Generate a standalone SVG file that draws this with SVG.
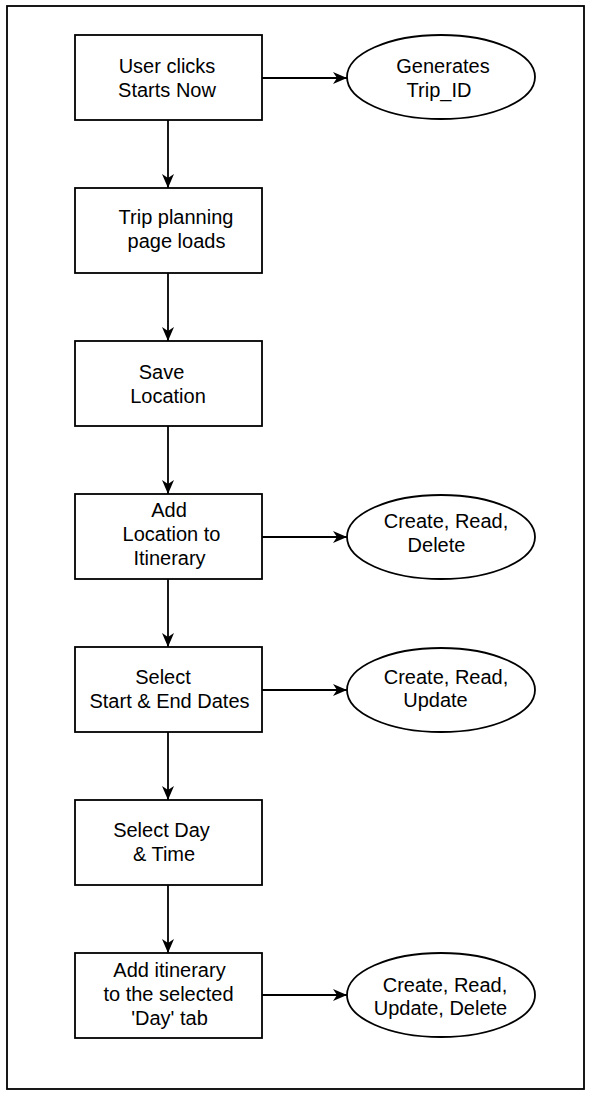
<svg xmlns="http://www.w3.org/2000/svg" width="596" height="1096" viewBox="0 0 596 1096">
<style>
.box{fill:#fff;stroke:#000;stroke-width:1.8}
.ell{fill:#fff;stroke:#000;stroke-width:1.8}
.edge{fill:none;stroke:#000;stroke-width:1.8}
text{font-family:"Liberation Sans",Arial,Helvetica,sans-serif;font-size:20px;fill:#000;text-anchor:middle}
</style>
<defs>
<marker id="arr" markerUnits="userSpaceOnUse" markerWidth="16" markerHeight="14" refX="14" refY="6" orient="auto">
<path d="M0,0 L14,6 L0,12 L4,6 Z" fill="#000"/>
</marker>
</defs>
<rect x="0" y="0" width="596" height="1096" fill="#fff"/>
<rect id="frame" x="7" y="6" width="577" height="1083" fill="none" stroke="#000" stroke-width="1.8"/>
<g id="connectors">
<line class="edge" x1="262" y1="78" x2="347" y2="78" marker-end="url(#arr)"/>
<line class="edge" x1="168" y1="120" x2="168" y2="188" marker-end="url(#arr)"/>
<line class="edge" x1="168" y1="273" x2="168" y2="341" marker-end="url(#arr)"/>
<line class="edge" x1="168" y1="426" x2="168" y2="494" marker-end="url(#arr)"/>
<line class="edge" x1="262" y1="537" x2="347" y2="537" marker-end="url(#arr)"/>
<line class="edge" x1="168" y1="579" x2="168" y2="647" marker-end="url(#arr)"/>
<line class="edge" x1="262" y1="690" x2="347" y2="690" marker-end="url(#arr)"/>
<line class="edge" x1="168" y1="732" x2="168" y2="800" marker-end="url(#arr)"/>
<line class="edge" x1="168" y1="885" x2="168" y2="953" marker-end="url(#arr)"/>
<line class="edge" x1="262" y1="995" x2="347" y2="995" marker-end="url(#arr)"/>
</g>
<g id="n1">
<rect class="box" x="75" y="35" width="187" height="85"/>
<text x="167" y="73">User clicks</text>
<text x="167" y="97">Starts Now</text>
</g>
<g id="e1">
<ellipse class="ell" cx="441" cy="77" rx="94" ry="42"/>
<text x="443" y="73">Generates</text>
<text x="439" y="97">Trip_ID</text>
</g>
<g id="n2">
<rect class="box" x="75" y="188" width="187" height="85"/>
<text x="176" y="224">Trip planning</text>
<text x="176.5" y="248">page loads</text>
</g>
<g id="n3">
<rect class="box" x="75" y="341" width="187" height="85"/>
<text x="161.5" y="379">Save</text>
<text x="168" y="403">Location</text>
</g>
<g id="n4">
<rect class="box" x="75" y="494" width="187" height="85"/>
<text x="169" y="517">Add</text>
<text x="171.5" y="541">Location to</text>
<text x="169.5" y="565">Itinerary</text>
</g>
<g id="e2">
<ellipse class="ell" cx="441" cy="537" rx="94" ry="42"/>
<text x="446" y="528">Create, Read,</text>
<text x="436.5" y="552">Delete</text>
</g>
<g id="n5">
<rect class="box" x="75" y="647" width="187" height="85"/>
<text x="163" y="684">Select</text>
<text x="169.5" y="708">Start &amp; End Dates</text>
</g>
<g id="e3">
<ellipse class="ell" cx="441" cy="690" rx="94" ry="42"/>
<text x="446" y="684">Create, Read,</text>
<text x="435.5" y="707">Update</text>
</g>
<g id="n6">
<rect class="box" x="75" y="800" width="187" height="85"/>
<text x="161.5" y="837">Select Day</text>
<text x="164" y="861">&amp; Time</text>
</g>
<g id="n7">
<rect class="box" x="75" y="953" width="187" height="85"/>
<text x="169.5" y="977">Add itinerary</text>
<text x="168.5" y="1001">to the selected</text>
<text x="169.5" y="1025">'Day' tab</text>
</g>
<g id="e4">
<ellipse class="ell" cx="441" cy="995" rx="94" ry="42"/>
<text x="445" y="992">Create, Read,</text>
<text x="440.5" y="1015">Update, Delete</text>
</g>
</svg>
